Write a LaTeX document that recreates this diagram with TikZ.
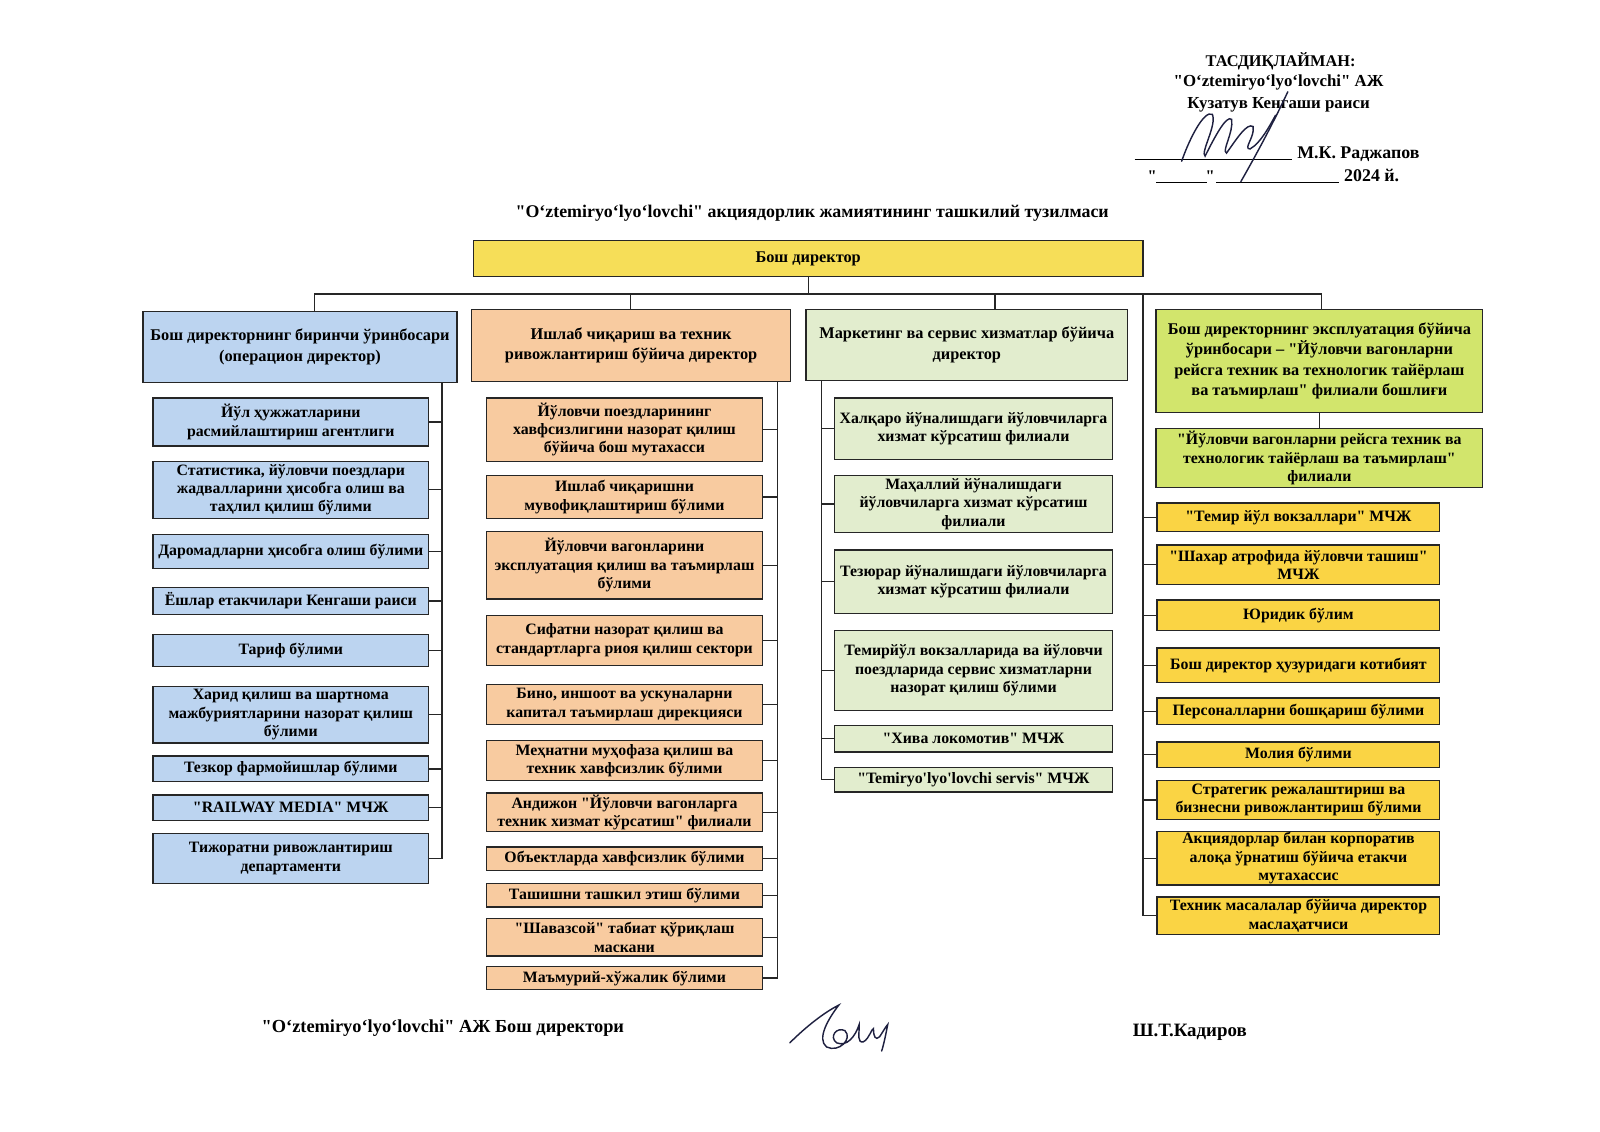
\documentclass[tikz,border=0pt]{standalone}
\usepackage{fontspec}
\setmainfont{Liberation Serif}[Ligatures=TeXOff]
\usepackage{xcolor}
\usetikzlibrary{positioning}

\definecolor{topfill}{RGB}{246,222,88}
\definecolor{blufill}{RGB}{188,212,240}
\definecolor{orafill}{RGB}{248,203,160}
\definecolor{grnfill}{RGB}{226,237,206}
\definecolor{limfill}{RGB}{210,229,108}
\definecolor{yelfill}{RGB}{250,212,68}
\definecolor{ink}{RGB}{30,32,64}

\begin{document}
\begin{tikzpicture}[x=1pt, y=-1pt, outer sep=0pt,
    font=\bfseries\fontsize{15.5}{18}\selectfont,
    box/.style={draw=black!85, line width=1.3pt, align=center, inner sep=1pt},
    head/.style={box, font=\bfseries\fontsize{16}{20}\selectfont},
    blu/.style={box, fill=blufill},
    ora/.style={box, fill=orafill},
    grn/.style={box, fill=grnfill},
    lim/.style={box, fill=limfill},
    yel/.style={box, fill=yelfill},
    wire/.style={line width=1.3pt, black!85},
    pen/.style={ink, line width=1.4pt, line cap=round}]
    \fill [white] (0,0) rectangle (1568,1108.4);

    % approval block
    \node (ap1) at (1255,60) {\fontsize{16}{20}\selectfont ТАСДИҚЛАЙМАН:};
    \node (ap2) at (1253,81) {\fontsize{16.5}{20}\selectfont "O‘ztemiryo‘lyo‘lovchi" АЖ};
    \node (ap3) at (1253,103) {\fontsize{16.5}{20}\selectfont Кузатув Кенгаши раиси};
    \node [anchor=base west] (ap4) at (1268,155) {\fontsize{17.5}{20}\selectfont М.К. Раджапов};
    \node [anchor=base west] (ap5) at (1314,178) {\fontsize{17.5}{20}\selectfont 2024 й.};
    \node [anchor=base] (q1) at (1129,178) {\fontsize{16}{20}\selectfont "};
    \node [anchor=base] (q2) at (1186,178) {\fontsize{16}{20}\selectfont "};
    \draw [line width=1pt] (1112,156) -- (1266,156);
    \draw [line width=1pt] (1133,179) -- (1183,179);
    \draw [line width=1pt] (1192,179) -- (1312,179);
    \draw [pen] (1158,158) .. controls (1166,135) and (1180,108) .. (1188,112)
        .. controls (1193,122) and (1176,150) .. (1181,153)
        .. controls (1190,135) and (1202,112) .. (1207,117)
        .. controls (1209,130) and (1197,148) .. (1202,150)
        .. controls (1212,136) and (1222,120) .. (1228,124)
        .. controls (1230,134) and (1218,146) .. (1225,146)
        .. controls (1236,140) and (1246,120) .. (1250,113);
    \draw [pen] (1262,90) .. controls (1248,120) and (1232,150) .. (1216,178);

    \node (title) at (796,209) {\fontsize{17.5}{20}\selectfont "O‘ztemiryo‘lyo‘lovchi" акциядорлик жамиятининг ташкилий тузилмаси};

    \node [head, fill=topfill, minimum width=656pt, minimum height=35pt] (gd) at (792,253.5) {Бош директор};

    % heads
    \node [head, fill=blufill, minimum width=308pt, minimum height=70pt] (h1) at (294,340) {Бош директорнинг биринчи ўринбосари\\(операцион директор)};
    \node [head, fill=orafill, minimum width=313pt, minimum height=71pt] (h2) at (618.5,338.5) {Ишлаб чиқариш ва техник\\ривожлантириш бўйича директор};
    \node [head, fill=grnfill, minimum width=315pt, minimum height=70pt] (h3) at (947.5,338) {Маркетинг ва сервис хизматлар бўйича\\директор};
    \node [head, fill=limfill, minimum width=320pt, minimum height=101pt] (h4) at (1293,353.5) {Бош директорнинг эксплуатация бўйича\\ўринбосари – "Йўловчи вагонларни\\рейсга техник ва технологик тайёрлаш\\ва таъмирлаш" филиали бошлиғи};

    % first deputy
    \node [blu, minimum width=270pt, minimum height=47pt] (c1) at (285,413.5) {Йўл ҳужжатларини\\расмийлаштириш агентлиги};
    \node [blu, minimum width=270pt, minimum height=56pt] (c2) at (285,480) {Статистика, йўловчи поездлари\\жадвалларини ҳисобга олиш ва\\таҳлил қилиш бўлими};
    \node [blu, minimum width=270pt, minimum height=33pt] (c3) at (285,540.5) {Даромадларни ҳисобга олиш бўлими};
    \node [blu, minimum width=270pt, minimum height=26pt] (c4) at (285,589) {Ёшлар етакчилари Кенгаши раиси};
    \node [blu, minimum width=270pt, minimum height=31pt] (c5) at (285,637.5) {Тариф бўлими};
    \node [blu, minimum width=270pt, minimum height=55pt] (c6) at (285,700.5) {Харид қилиш ва шартнома\\мажбуриятларини назорат қилиш\\бўлими};
    \node [blu, minimum width=270pt, minimum height=25pt] (c7) at (285,753.5) {Тезкор фармойишлар бўлими};
    \node [blu, minimum width=270pt, minimum height=25pt] (c8) at (285,791.5) {"RAILWAY MEDIA" МЧЖ};
    \node [blu, minimum width=270pt, minimum height=49pt] (c9) at (285,841.5) {Тижоратни ривожлантириш\\департаменти};

    % production
    \node [ora, minimum width=270pt, minimum height=62pt] (d1) at (612,421) {Йўловчи поездларининг\\хавфсизлигини назорат қилиш\\бўйича бош мутахасси};
    \node [ora, minimum width=270pt, minimum height=42pt] (d2) at (612,487) {Ишлаб чиқаришни\\мувофиқлаштириш бўлими};
    \node [ora, minimum width=270pt, minimum height=66pt] (d3) at (612,554) {Йўловчи вагонларини\\эксплуатация қилиш ва таъмирлаш\\бўлими};
    \node [ora, minimum width=270pt, minimum height=49pt] (d4) at (612,627.5) {Сифатни назорат қилиш ва\\стандартларга риоя қилиш сектори};
    \node [ora, minimum width=270pt, minimum height=39pt] (d5) at (612,690.5) {Бино, иншоот ва ускуналарни\\капитал таъмирлаш дирекцияси};
    \node [ora, minimum width=270pt, minimum height=39pt] (d6) at (612,745.5) {Меҳнатни муҳофаза қилиш ва\\техник хавфсизлик бўлими};
    \node [ora, minimum width=270pt, minimum height=38pt] (d7) at (612,796) {Андижон "Йўловчи вагонларга\\техник хизмат кўрсатиш" филиали};
    \node [ora, minimum width=270pt, minimum height=23pt] (d8) at (612,841.5) {Объектларда хавфсизлик бўлими};
    \node [ora, minimum width=270pt, minimum height=23pt] (d9) at (612,877.5) {Ташишни ташкил этиш бўлими};
    \node [ora, minimum width=270pt, minimum height=37pt] (d10) at (612,918.5) {"Шавазсой" табиат қўриқлаш\\маскани};
    \node [ora, minimum width=270pt, minimum height=23pt] (d11) at (612,958.5) {Маъмурий-хўжалик бўлими};

    % marketing
    \node [grn, minimum width=272pt, minimum height=60pt] (e1) at (954,420) {Халқаро йўналишдаги йўловчиларга\\хизмат кўрсатиш филиали};
    \node [grn, minimum width=272pt, minimum height=56pt] (e2) at (954,494) {Маҳаллий йўналишдаги\\йўловчиларга хизмат кўрсатиш\\филиали};
    \node [grn, minimum width=272pt, minimum height=62pt] (e3) at (954,570) {Тезюрар йўналишдаги йўловчиларга\\хизмат кўрсатиш филиали};
    \node [grn, minimum width=272pt, minimum height=78pt] (e4) at (954,657) {Темирйўл вокзалларида ва йўловчи\\поездларида сервис хизматларни\\назорат қилиш бўлими};
    \node [grn, minimum width=272pt, minimum height=26pt] (e5) at (954,724) {"Хива локомотив" МЧЖ};
    \node [grn, minimum width=272pt, minimum height=24pt] (e6) at (954,764) {"Temiryo'lyo'lovchi servis" МЧЖ};

    % operation deputy and general director units
    \node [lim, minimum width=320pt, minimum height=58pt] (f0) at (1293,449) {"Йўловчи вагонларни рейсга техник ва\\технологик тайёрлаш ва таъмирлаш"\\филиали};
    \node [yel, minimum width=277pt, minimum height=28pt] (g1) at (1272.5,507) {"Темир йўл вокзаллари" МЧЖ};
    \node [yel, minimum width=277pt, minimum height=39pt] (g2) at (1272.5,553.5) {"Шахар атрофида йўловчи ташиш"\\МЧЖ};
    \node [yel, minimum width=277pt, minimum height=30pt] (g3) at (1272.5,603) {Юридик бўлим};
    \node [yel, minimum width=277pt, minimum height=34pt] (g4) at (1272.5,652) {Бош директор ҳузуридаги котибият};
    \node [yel, minimum width=277pt, minimum height=26pt] (g5) at (1272.5,697) {Персоналларни бошқариш бўлими};
    \node [yel, minimum width=277pt, minimum height=25pt] (g6) at (1272.5,739.5) {Молия бўлими};
    \node [yel, minimum width=277pt, minimum height=38pt] (g7) at (1272.5,784) {Стратегик режалаштириш ва\\бизнесни ривожлантириш бўлими};
    \node [yel, minimum width=277pt, minimum height=52pt] (g8) at (1272.5,841) {Акциядорлар билан корпоратив\\алоқа ўрнатиш бўйича етакчи\\мутахассис};
    \node [yel, minimum width=277pt, minimum height=37pt] (g9) at (1272.5,897.5) {Техник масалалар бўйича директор\\маслаҳатчиси};

    % bus and spines
    \coordinate (bus1) at (308,288);
    \coordinate (bus2) at (618,288);
    \coordinate (bus3) at (975,288);
    \coordinate (bus4) at (1295,288);
    \coordinate (sp1) at (433,0);
    \coordinate (sp2) at (762,0);
    \coordinate (sp3) at (805,0);
    \coordinate (sp4) at (1120,288);
    \draw [wire] (gd.south) -- (gd.south |- bus1);
    \draw [wire] (bus1 |- h1.north) -- (bus1) -- (bus4) -- (bus4 |- h4.north);
    \draw [wire] (bus2) -- (bus2 |- h2.north);
    \draw [wire] (bus3) -- (bus3 |- h3.north);

    \draw [wire] (sp1 |- h1.south) -- (sp1 |- c9.east) -- (c9.east);
    \draw [wire] (c1.east) -- (c1.east -| sp1) (c2.east) -- (c2.east -| sp1)
        (c3.east) -- (c3.east -| sp1) (c4.east) -- (c4.east -| sp1)
        (c5.east) -- (c5.east -| sp1) (c6.east) -- (c6.east -| sp1)
        (c7.east) -- (c7.east -| sp1) (c8.east) -- (c8.east -| sp1);

    \draw [wire] (sp2 |- h2.south) -- (sp2 |- d11.east) -- (d11.east);
    \draw [wire] (d1.east) -- (d1.east -| sp2) (d2.east) -- (d2.east -| sp2)
        (d3.east) -- (d3.east -| sp2) (d4.east) -- (d4.east -| sp2)
        (d5.east) -- (d5.east -| sp2) (d6.east) -- (d6.east -| sp2)
        (d7.east) -- (d7.east -| sp2) (d8.east) -- (d8.east -| sp2)
        (d9.east) -- (d9.east -| sp2) (d10.east) -- (d10.east -| sp2);

    \draw [wire] (sp3 |- h3.south) -- (sp3 |- e6.west) -- (e6.west);
    \draw [wire] (e1.west) -- (e1.west -| sp3) (e2.west) -- (e2.west -| sp3)
        (e3.west) -- (e3.west -| sp3) (e4.west) -- (e4.west -| sp3)
        (e5.west) -- (e5.west -| sp3);

    \draw [wire] (h4.south) -- (f0.north);
    \draw [wire] (sp4) -- (sp4 |- g9.west) -- (g9.west);
    \draw [wire] (g1.west) -- (g1.west -| sp4) (g2.west) -- (g2.west -| sp4)
        (g3.west) -- (g3.west -| sp4) (g4.west) -- (g4.west -| sp4)
        (g5.west) -- (g5.west -| sp4) (g6.west) -- (g6.west -| sp4)
        (g7.west) -- (g7.west -| sp4) (g8.west) -- (g8.west -| sp4);

    % signature of the general director
    \node (ceo) at (434,1008) {\fontsize{18}{20}\selectfont "O‘ztemiryo‘lyo‘lovchi" АЖ Бош директори};
    \node (ceoname) at (1166,1012) {\fontsize{18.5}{20}\selectfont Ш.Т.Кадиров};
    \draw [pen] (774,1022) .. controls (790,1006) and (808,992) .. (822,985)
        .. controls (812,998) and (800,1018) .. (810,1026)
        .. controls (822,1032) and (836,1018) .. (828,1010)
        .. controls (820,1006) and (812,1016) .. (820,1022)
        .. controls (830,1026) and (838,1016) .. (842,1004)
        .. controls (842,1015) and (840,1022) .. (846,1021)
        .. controls (852,1018) and (854,1008) .. (856,1008)
        .. controls (856,1016) and (858,1020) .. (862,1016)
        .. controls (866,1010) and (868,1006) .. (870,1004)
        .. controls (868,1014) and (866,1024) .. (864,1030);
\end{tikzpicture}
\end{document}
